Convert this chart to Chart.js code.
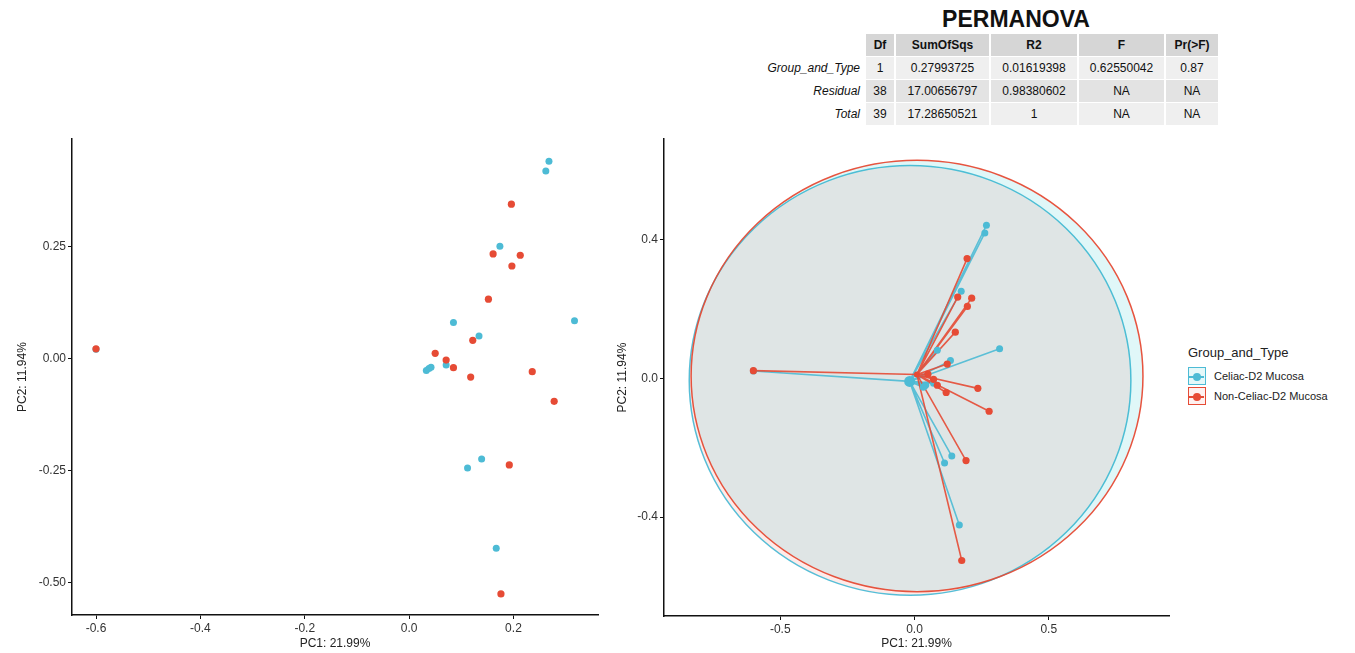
<!DOCTYPE html>
<html><head><meta charset="utf-8">
<script src="https://cdn.jsdelivr.net/npm/chart.js@4.4.1/dist/chart.umd.min.js"></script>
<style>
html,body{margin:0;padding:0;background:#fff;}
body{width:1355px;height:653px;overflow:hidden;position:relative;font-family:'Liberation Sans',Arial,sans-serif;color:#222;}
canvas{position:absolute;display:block;}
#c1{left:0;top:130px;}
#c2{left:610px;top:130px;}
.cell{position:absolute;display:flex;align-items:center;justify-content:center;font-size:12px;color:#111;box-sizing:border-box;}
.rowname{justify-content:flex-end;font-style:italic;padding-right:0;}
.hdr{font-weight:bold;}
#ptitle{position:absolute;left:916px;width:200px;top:6px;text-align:center;font-weight:bold;font-size:23px;color:#111;}
#legend{position:absolute;left:1188px;top:345px;}
#legend .lt{font-size:13px;color:#222;margin-bottom:6px;line-height:16px;}
.key{position:relative;height:20px;}
.kbox{position:absolute;left:0;top:0;width:18px;height:18px;box-sizing:border-box;border:1.5px solid;}
.kline{position:absolute;left:0;top:8px;width:15px;height:1.5px;}
.kdot{position:absolute;left:3.5px;top:4.5px;width:8px;height:8px;border-radius:50%;}
.klab{position:absolute;left:26px;top:2px;font-size:11px;color:#222;white-space:nowrap;line-height:14px;}
</style></head><body>
<canvas id="c1" width="610" height="523"></canvas>
<canvas id="c2" width="570" height="523"></canvas>
<div id="ptitle">PERMANOVA</div>
<div id="table"></div>
<div id="legend"></div>
<script>
// ---- data ----
const groupNames = ['Celiac-D2 Mucosa', 'Non-Celiac-D2 Mucosa'];
const celiacX = [-0.600, 0.268, 0.262, 0.174, 0.085, 0.317, 0.134, 0.071, 0.042, 0.038, 0.033, 0.139, 0.112, 0.167];
const celiacY = [0.021, 0.441, 0.419, 0.251, 0.081, 0.085, 0.051, -0.014, -0.019, -0.022, -0.026, -0.224, -0.244, -0.423];
const nonCeliacX = [0.196, 0.161, 0.213, 0.197, 0.152, 0.122, 0.050, 0.071, 0.085, 0.118, 0.236, 0.278, 0.192, 0.176, -0.600];
const nonCeliacY = [0.345, 0.234, 0.231, 0.207, 0.133, 0.041, 0.012, -0.003, -0.020, -0.041, -0.029, -0.095, -0.237, -0.525, 0.022];
const celiacCentroid = [-0.018, -0.009];
const nonCeliacCentroid = [0.009, 0.011];
const celiacEllipse = [-0.0165, -0.006, 0.8225, 0.619];     // cx, cy, rx, ry
const nonCeliacEllipse = [0.0095, 0.0065, 0.8415, 0.6215];
const leftXTicks = [-0.6, -0.4, -0.2, 0.0, 0.2];
const leftYTicks = [-0.50, -0.25, 0.00, 0.25];
const rightXTicks = [-0.5, 0.0, 0.5];
const rightYTicks = [-0.4, 0.0, 0.4];
const xTitle = 'PC1: 21.99%';
const yTitle = 'PC2: 11.94%';
const permHeaders = ['Df', 'SumOfSqs', 'R2', 'F', 'Pr(>F)'];
const permRowNames = ['Group_and_Type', 'Residual', 'Total'];
const permRows = [
  ['1', '0.27993725', '0.01619398', '0.62550042', '0.87'],
  ['38', '17.00656797', '0.98380602', 'NA', 'NA'],
  ['39', '17.28650521', '1', 'NA', 'NA']
];
// ---- styling ----
const BLUE = '#4DBBD5', RED = '#E64B35';
const toPts = (xs, ys) => xs.map((x, i) => ({x: x, y: ys[i]}));
function spider(c, xs, ys) {
  const d = [];
  xs.forEach((x, i) => { d.push({x: c[0], y: c[1]}, {x: x, y: ys[i]}, {x: x, y: null}); });
  return d;
}
Chart.defaults.font.family = "'Liberation Sans', Arial, sans-serif";
Chart.defaults.animation = false;

function axis(min, max, ticks, dec, size, isY, title, titlePad) {
  return {
    type: 'linear', min: min, max: max,
    afterBuildTicks: s => { s.ticks = ticks.map(v => ({value: v})); },
    afterFit: s => { if (isY) s.width = size; else s.height = size; },
    grid: {display: true, drawOnChartArea: false, drawTicks: true, tickLength: 4, color: '#111', lineWidth: 1},
    border: {display: true, color: '#111', width: 1.5},
    ticks: {color: '#333', font: {size: 12}, padding: 2, autoSkip: false, maxRotation: 0,
            callback: v => Number(v).toFixed(dec)},
    title: {display: true, text: title, color: '#222', font: {size: 12}, padding: titlePad}
  };
}

const ellipsePlugin = {
  id: 'ellipses',
  beforeDatasetsDraw(chart, args, opts) {
    if (!opts.list) return;
    const ctx = chart.ctx, xs = chart.scales.x, ys = chart.scales.y;
    opts.list.forEach(e => {
      const p = e.p;
      const cx = xs.getPixelForValue(p[0]), cy = ys.getPixelForValue(p[1]);
      const rx = Math.abs(xs.getPixelForValue(p[0] + p[2]) - cx);
      const ry = Math.abs(ys.getPixelForValue(p[1] + p[3]) - cy);
      ctx.save();
      ctx.beginPath();
      ctx.ellipse(cx, cy, rx, ry, 0, 0, Math.PI * 2);
      ctx.fillStyle = e.fill; ctx.fill();
      ctx.lineWidth = 1.5; ctx.strokeStyle = e.stroke; ctx.stroke();
      ctx.restore();
    });
  }
};

const baseOpts = {
  responsive: false, devicePixelRatio: 1,
  plugins: {legend: {display: false}, tooltip: {enabled: false}},
  events: []
};

// Chart.js paints dataset 0 last (on top), so datasets are listed top-most first.
new Chart(document.getElementById('c1'), {
  type: 'scatter',
  data: {datasets: [
    {data: toPts(nonCeliacX, nonCeliacY), backgroundColor: RED, borderWidth: 0, pointRadius: 3.6},
    {data: toPts(celiacX, celiacY), backgroundColor: BLUE, borderWidth: 0, pointRadius: 3.5}
  ]},
  options: Object.assign({}, baseOpts, {
    layout: {padding: {top: 8, right: 12, left: 0, bottom: 0}},
    scales: {
      x: axis(-0.646, 0.362, leftXTicks, 1, 38, false, xTitle, {top: 0, bottom: 2}),
      y: axis(-0.572, 0.490, leftYTicks, 2, 72, true, yTitle, {top: 15, bottom: 0})
    }
  })
});

new Chart(document.getElementById('c2'), {
  type: 'scatter',
  data: {datasets: [
    {data: [{x: nonCeliacCentroid[0], y: nonCeliacCentroid[1]}], backgroundColor: RED, borderWidth: 0, pointRadius: 3},
    {data: toPts(nonCeliacX, nonCeliacY), backgroundColor: RED, borderWidth: 0, pointRadius: 3.6},
    {data: [{x: celiacCentroid[0], y: celiacCentroid[1]}], backgroundColor: BLUE, borderWidth: 0, pointRadius: 5.5},
    {data: toPts(celiacX, celiacY), backgroundColor: BLUE, borderWidth: 0, pointRadius: 3.5},
    {data: spider(nonCeliacCentroid, nonCeliacX, nonCeliacY), showLine: true, borderColor: 'rgba(230,75,53,0.9)', borderWidth: 1.6, pointRadius: 0, spanGaps: false},
    {data: spider(celiacCentroid, celiacX, celiacY), showLine: true, borderColor: 'rgba(77,187,213,0.9)', borderWidth: 1.6, pointRadius: 0, spanGaps: false}
  ]},
  options: Object.assign({}, baseOpts, {
    layout: {padding: {top: 8, right: 11, left: 0, bottom: 0}},
    scales: {
      x: axis(-0.933, 0.948, rightXTicks, 1, 37, false, xTitle, {top: 0, bottom: 2}),
      y: axis(-0.685, 0.689, rightYTicks, 1, 54, true, yTitle, {top: 5, bottom: 0})
    },
    plugins: Object.assign({}, baseOpts.plugins, {
      ellipses: {list: [
        {p: celiacEllipse, fill: 'rgba(248,118,109,0.15)', stroke: 'rgba(77,187,213,0.95)'},
        {p: nonCeliacEllipse, fill: 'rgba(0,191,196,0.12)', stroke: 'rgba(230,75,53,0.95)'}
      ]}
    })
  }),
  plugins: [ellipsePlugin]
});

// ---- PERMANOVA table ----
(function () {
  const t = document.getElementById('table');
  const colL = [866, 896, 991, 1079, 1166];
  const colW = [28, 93, 86, 85, 52];
  const rowT = [34, 57, 80, 103];
  const rowH = 22;
  const bgs = ['#d6d6d6', '#efefef', '#e3e3e3', '#efefef'];
  function cell(txt, l, tp, w, cls, bg) {
    const d = document.createElement('div');
    d.className = 'cell ' + cls;
    d.style.left = l + 'px'; d.style.top = tp + 'px';
    d.style.width = w + 'px'; d.style.height = rowH + 'px';
    if (bg) d.style.background = bg;
    d.textContent = txt;
    t.appendChild(d);
  }
  permHeaders.forEach((h, j) => cell(h, colL[j], rowT[0], colW[j], 'hdr', bgs[0]));
  permRows.forEach((r, i) => {
    cell(permRowNames[i], 700, rowT[i + 1], 160, 'rowname', null);
    r.forEach((v, j) => cell(v, colL[j], rowT[i + 1], colW[j], '', bgs[i + 1]));
  });
})();

// ---- legend ----
(function () {
  const lg = document.getElementById('legend');
  const t = document.createElement('div'); t.className = 'lt'; t.textContent = 'Group_and_Type'; lg.appendChild(t);
  const cols = [[BLUE, 'rgba(0,191,196,0.10)'], [RED, 'rgba(248,118,109,0.10)']];
  groupNames.forEach((g, i) => {
    const k = document.createElement('div'); k.className = 'key';
    k.innerHTML = '<div class="kbox" style="border-color:' + cols[i][0] + ';background:' + cols[i][1] + '">' +
      '<div class="kline" style="background:' + cols[i][0] + '"></div>' +
      '<div class="kdot" style="background:' + cols[i][0] + '"></div></div>' +
      '<div class="klab">' + g + '</div>';
    lg.appendChild(k);
  });
})();
</script>
</body></html>
